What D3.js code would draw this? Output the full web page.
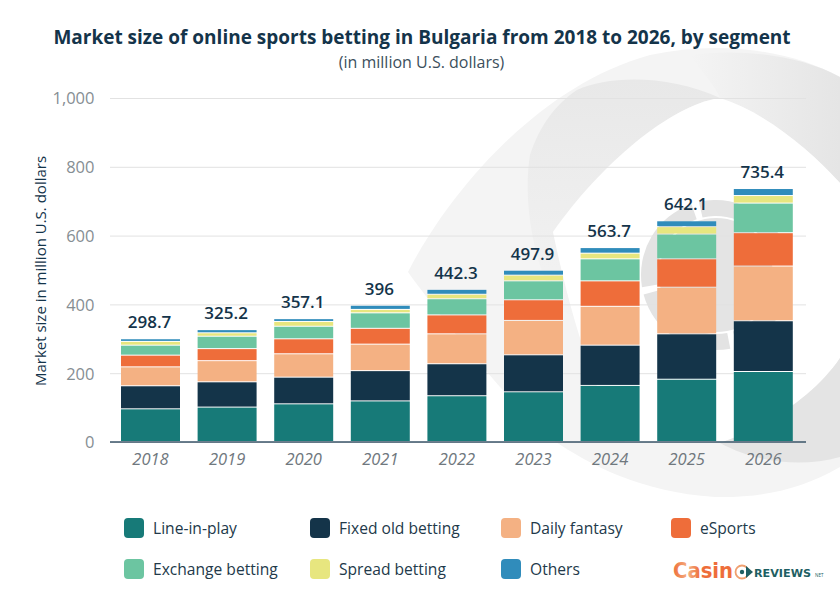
<!DOCTYPE html>
<html>
<head>
<meta charset="utf-8">
<script src="https://d3js.org/d3.v7.min.js"></script>
<style>
	body { margin: 0; background: #fff; }
	text { font-family: "Open Sans", sans-serif; }
</style>
</head>
<body>
<script>
// values
var years = ["2018", "2019", "2020", "2021", "2022", "2023", "2024", "2025", "2026"]
var totals = ["298.7", "325.2", "357.1", "396", "442.3", "497.9", "563.7", "642.1", "735.4"]
var yTicks = [0, 200, 400, 600, 800, 1000]

var lineInPlay = [95, 100, 109.5, 118, 133, 144.5, 163, 181, 203.5]
var fixedOdd = [67, 73.5, 77.5, 88, 93, 107.5, 117, 132, 147.5]
var dailyFantasy = [55, 61.5, 68, 77, 87, 100, 113, 135.5, 159]
var eSports = [34, 35, 43.5, 46, 55, 60, 74, 82.5, 97]
var exchange = [29, 36, 36.5, 45, 47, 55, 64, 72, 86]
var spread = [11, 10, 14, 10, 13, 16.5, 16.5, 21.5, 22]
var others = [7.7, 9.2, 8.1, 12, 14.3, 14.4, 16.2, 17.1, 20.4]

var seriesNames = ["Line-in-play", "Fixed old betting", "Daily fantasy", "eSports", "Exchange betting", "Spread betting", "Others"]
var seriesValues = [lineInPlay, fixedOdd, dailyFantasy, eSports, exchange, spread, others]
var colors = ["#177a78", "#143449", "#f4b183", "#ee6d3a", "#6cc5a1", "#e7e67f", "#308cbb"]

var w = 840
var h = 606

var svg = d3.select("body")
			.append("svg")
			.attr("width", w)
			.attr("height", h)
			.style("display", "block")
var defs = svg.append("defs")

drawWatermark()

// scales
var xScale = d3.scaleBand()
				.domain(years)
				.range([112.2, 801.6])
				.paddingInner(0.23)
				.paddingOuter(0.115)
var yScale = d3.scaleLinear()
				.domain([0, 1000])
				.range([442, 98])

// gridlines
var grid = svg.append("g")
				.attr("transform", "translate(806,0)")
				.call(d3.axisLeft(yScale).tickValues(yTicks).tickSize(696).tickFormat(""))
grid.select(".domain").remove()
grid.selectAll("line").attr("stroke", "#e2e2e2").attr("stroke-width", 1)

// y axis labels
var yAxis = svg.append("g")
				.attr("transform", "translate(94.5,0)")
				.call(d3.axisLeft(yScale).tickValues(yTicks).tickSize(0).tickPadding(0).tickFormat(d3.format(",")))
yAxis.select(".domain").remove()
yAxis.selectAll("text")
	.attr("font-size", 16.5)
	.attr("fill", "#868e93")
	.attr("dy", "0.36em")
	.style("font-family", "'Open Sans', sans-serif")

// stacked bars
var rows = years.map(function(year, i) {
	var row = { year: year }
	seriesNames.forEach(function(name, j) {
		row[name] = seriesValues[j][i]
	})
	return row
})
var stacked = d3.stack().keys(seriesNames)(rows)

svg.selectAll("g.layer")
	.data(stacked)
	.enter()
	.append("g")
	.attr("class", "layer")
	.attr("fill", function(d, i) { return colors[i]; })
	.selectAll("rect")
	.data(function(d) { return d; })
	.enter()
	.append("rect")
	.attr("x", function(d) { return xScale(d.data.year); })
	.attr("width", xScale.bandwidth())
	.attr("y", function(d) { return yScale(d[1]); })
	.attr("height", function(d) { return Math.max(0, yScale(d[0]) - yScale(d[1]) - 1); })

// axis line at zero
svg.append("line")
	.attr("x1", 110)
	.attr("x2", 806)
	.attr("y1", yScale(0))
	.attr("y2", yScale(0))
	.attr("stroke", "#3a5568")
	.attr("stroke-width", 1.6)

// x axis labels
var xAxis = svg.append("g")
				.attr("transform", "translate(0," + yScale(0) + ")")
				.call(d3.axisBottom(xScale).tickSize(0).tickPadding(11))
xAxis.select(".domain").remove()
xAxis.selectAll("text")
	.attr("font-size", 16.5)
	.attr("font-style", "italic")
	.attr("fill", "#70787e")
	.style("font-family", "'Open Sans', sans-serif")

// totals above the bars
svg.selectAll("text.total")
	.data(totals)
	.enter()
	.append("text")
	.attr("class", "total")
	.attr("x", function(d, i) { return xScale(years[i]) + xScale.bandwidth() / 2 - 1; })
	.attr("y", function(d) { return yScale(+d) - 11; })
	.attr("text-anchor", "middle")
	.attr("font-size", 17)
	.attr("font-weight", 600)
	.attr("fill", "#14344a")
	.text(function(d) { return d; })

// title
svg.append("text")
	.attr("x", 422)
	.attr("y", 44)
	.attr("text-anchor", "middle")
	.attr("font-size", 19)
	.attr("font-weight", 700)
	.attr("fill", "#14344a")
	.text("Market size of online sports betting in Bulgaria from 2018 to 2026, by segment")
svg.append("text")
	.attr("x", 421.5)
	.attr("y", 68)
	.attr("text-anchor", "middle")
	.attr("font-size", 16)
	.attr("fill", "#3c4f5c")
	.text("(in million U.S. dollars)")
svg.append("text")
	.attr("transform", "translate(46,271) rotate(-90)")
	.attr("text-anchor", "middle")
	.attr("font-size", 15)
	.attr("fill", "#14344a")
	.text("Market size in million U.S. dollars")

// legend
var legendX = [124, 310, 501, 671]
var legendOrder = [0, 1, 2, 3, 4, 5, 6]
var legend = svg.selectAll("g.legend")
				.data(legendOrder)
				.enter()
				.append("g")
				.attr("class", "legend")
				.attr("transform", function(d) {
					return "translate(" + legendX[d % 4] + "," + (d < 4 ? 518 : 559) + ")"
				})
legend.append("rect")
	.attr("width", 20)
	.attr("height", 20)
	.attr("rx", 4)
	.attr("fill", function(d) { return colors[d]; })
legend.append("text")
	.attr("x", 29)
	.attr("y", 16)
	.attr("font-size", 15.6)
	.attr("fill", "#22394a")
	.text(function(d) { return seriesNames[d]; })

drawLogo()

function addGradient(id, x1, y1, x2, y2, from, to) {
	var grad = defs.append("linearGradient")
				.attr("id", id)
				.attr("x1", x1).attr("y1", y1)
				.attr("x2", x2).attr("y2", y2)
	grad.append("stop").attr("offset", "0").attr("stop-color", from)
	grad.append("stop").attr("offset", "1").attr("stop-color", to)
}

function drawWatermark() {
	var back = svg.append("g")
	addGradient("bandFade", 0, 0, 0, 1, "#e8e8e8", "#f4f4f4")
	addGradient("rightFade", 0, 0, 1, 0, "#f4f4f4", "#e5e5e5")

	// pale outer swoosh of the eye
	back.append("path")
		.attr("fill", "#f4f4f4")
		.attr("d", "M408,272 C450,190 540,85 650,55 C720,40 790,50 840,77 L840,467 C800,490 760,498 715,497 C640,492 590,465 553,440 C520,415 450,330 408,272 Z")

	// right end of the swoosh gets darker
	back.append("path")
		.attr("fill", "url(#rightFade)")
		.attr("d", "M720,98 C765,112 810,150 840,183 L840,77 C800,55 740,48 690,55 C700,70 715,85 720,98 Z")

	// darker band on the top of the eye
	back.append("path")
		.attr("fill", "url(#bandFade)")
		.attr("d", "M577,90 C610,75 670,75 720,98 C670,105 600,165 553,232 C565,270 580,300 600,330 L560,310 C535,270 522,205 530,155 C540,125 555,105 577,90 Z")

	// white inside of the eye
	back.append("path")
		.attr("fill", "#ffffff")
		.attr("d", "M720,98 C765,112 810,150 840,183 L840,358 C815,395 770,425 720,443 L625,442 C590,390 565,290 553,232 C600,165 670,105 720,98 Z")

	// dark lower swoosh
	back.append("path")
		.attr("fill", "#e4e4e4")
		.attr("d", "M720,443 C770,425 815,395 840,358 L840,457 C800,468 755,462 720,443 Z")

	// gear ring in the middle of the eye
	var ring = d3.arc().innerRadius(59).outerRadius(75)
	var parts = [[-0.23, 1.4], [1.5, 2.85], [2.95, 4.45], [4.55, 5.95]]
	back.selectAll("path.ring")
		.data(parts)
		.enter()
		.append("path")
		.attr("class", "ring")
		.attr("transform", "translate(716,275)")
		.attr("fill", "#e3e3e3")
		.attr("d", function(d) { return ring({ startAngle: d[0], endAngle: d[1] }); })
	back.append("circle")
		.attr("cx", 716)
		.attr("cy", 275)
		.attr("r", 57)
		.attr("fill", "#e4e4e4")
}

function drawLogo() {
	var logo = svg.append("g")
	var grad = defs.append("linearGradient")
				.attr("id", "logoFade")
	grad.append("stop").attr("offset", "0").attr("stop-color", "#ee6d3a")
	grad.append("stop").attr("offset", "0.25").attr("stop-color", "#f4b183")
	grad.append("stop").attr("offset", "0.45").attr("stop-color", "#ee6d3a")
	grad.append("stop").attr("offset", "1").attr("stop-color", "#ee6d3a")

	logo.append("text")
		.attr("x", 673)
		.attr("y", 578)
		.attr("font-size", 20.5)
		.attr("font-weight", 700)
		.attr("textLength", 60)
		.attr("lengthAdjust", "spacingAndGlyphs")
		.attr("fill", "url(#logoFade)")
		.style("font-family", "'DejaVu Sans', sans-serif")
		.text("Casin")
	logo.append("circle")
		.attr("cx", 742)
		.attr("cy", 572)
		.attr("r", 6.5)
		.attr("fill", "none")
		.attr("stroke", "#f0a070")
		.attr("stroke-width", 1.8)
	logo.append("path")
		.attr("d", "M746,566 L753,572 L746,578 Z")
		.attr("fill", "#1e5f63")
	logo.append("circle")
		.attr("cx", 742)
		.attr("cy", 572)
		.attr("r", 2.2)
		.attr("fill", "#1e5f63")
	logo.append("text")
		.attr("x", 754)
		.attr("y", 577)
		.attr("font-size", 10.5)
		.attr("font-weight", 700)
		.attr("textLength", 57)
		.attr("lengthAdjust", "spacingAndGlyphs")
		.attr("fill", "#1e5f63")
		.style("font-family", "'DejaVu Sans', sans-serif")
		.text("REVIEWS")
	logo.append("text")
		.attr("x", 815)
		.attr("y", 577)
		.attr("font-size", 4.5)
		.attr("fill", "#1e5f63")
		.text("NET")
}
</script>
</body>
</html>
